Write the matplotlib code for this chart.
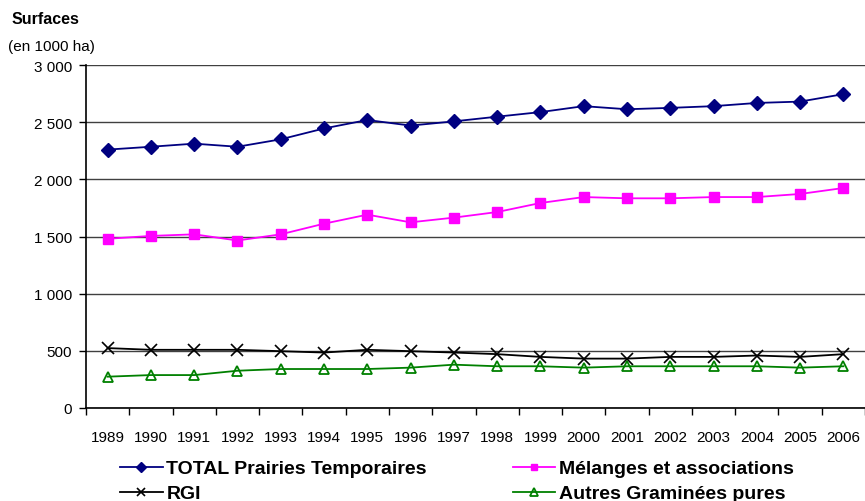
import matplotlib.pyplot as plt
from matplotlib.ticker import FuncFormatter, MultipleLocator
import numpy as np

plt.rcParams['font.family'] = ['Liberation Sans', 'DejaVu Sans']

years = [str(y) for y in range(1989, 2007)]
total = [2260, 2285, 2312, 2285, 2350, 2445, 2519, 2470, 2507,
         2548, 2588, 2640, 2613, 2625, 2640, 2668, 2680, 2745]
melanges = [1480, 1505, 1519, 1465, 1519, 1612, 1691, 1624, 1665,
            1714, 1793, 1845, 1834, 1834, 1845, 1845, 1872, 1924]
rgi = [524, 509, 509, 509, 497, 485, 509, 497, 485,
       471, 447, 432, 432, 447, 447, 459, 447, 471]
autres = [274, 288, 288, 326, 341, 341, 341, 353, 379,
          365, 365, 353, 365, 365, 365, 365, 353, 365]

W, H = 865, 502
fig = plt.figure(figsize=(W / 100, H / 100), dpi=100)
ax = fig.add_axes([86 / W, 1 - 409 / H, (865 - 86) / W, (409 - 66) / H])

x = np.arange(len(years))
l_total, = ax.plot(x, total, color='#000080', marker='D', markersize=7, lw=1.3, zorder=3)
l_mel, = ax.plot(x, melanges, color='#FF00FF', marker='s', markersize=7, lw=1.3, zorder=3)
l_rgi, = ax.plot(x, rgi, color='black', marker='x', markersize=8, mew=1.2, lw=1.3, zorder=3)
l_aut, = ax.plot(x, autres, color='#008000', marker='^', markersize=7.5, mfc='none',
                 mew=1.3, lw=1.3, zorder=3)

ax.set_xlim(-0.5, len(years) - 0.5)
ax.set_ylim(0, 3000)
ax.yaxis.set_major_locator(MultipleLocator(500))
ax.yaxis.set_major_formatter(FuncFormatter(lambda v, p: f"{int(v):,}".replace(',', ' ')))
ax.grid(axis='y', color='#404040', lw=1)
ax.set_axisbelow(True)

ax.set_xticks(x)
ax.set_xticklabels(years)
ax.set_xticks(np.arange(-0.5, len(years)), minor=True)
ax.tick_params(axis='x', which='major', length=0, pad=16, labelsize=11)
ax.tick_params(axis='x', which='minor', length=5, direction='out', width=1)
ax.tick_params(axis='y', length=5, width=1, labelsize=11, pad=5)

for s in ['top', 'right']:
    ax.spines[s].set_visible(False)
for s in ['left', 'bottom']:
    ax.spines[s].set_color('black')
    ax.spines[s].set_linewidth(1.2)

fig.text(12 / W, 1 - 20 / H, "Surfaces", fontsize=11.5, fontweight='bold', va='center')
fig.text(8 / W, 1 - 47 / H, "(en 1000 ha)", fontsize=11, va='center')

fig.legend([l_total, l_rgi, l_mel, l_aut],
           ["TOTAL Prairies Temporaires", "RGI", "Mélanges et associations",
            "Autres Graminées pures"],
           ncol=2, loc='upper left', bbox_to_anchor=(112 / W, 1 - 453 / H),
           frameon=False, prop={'weight': 'bold', 'size': 14},
           handlelength=2.2, handletextpad=0.2, columnspacing=4.4,
           labelspacing=0.38, markerscale=0.7, borderaxespad=0)

fig.savefig("out.png", dpi=100)
